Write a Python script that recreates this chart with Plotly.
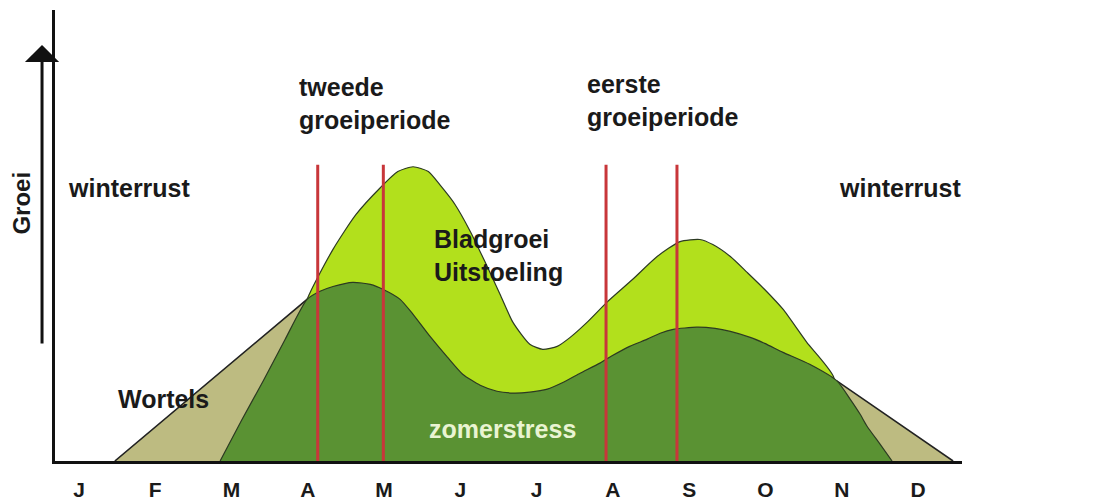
import plotly.graph_objects as go

# ---- data (x in months, J=0 ... D=11; y = relative growth) ----
months = ["J", "F", "M", "A", "M", "J", "J", "A", "S", "O", "N", "D"]
month_pos = list(range(12))

# Wortels (roots) – tan area
wortels_x = [0.47, 2.99, 3.16, 4.21, 6.18, 8.14, 9.45, 9.94, 11.46]
wortels_y = [0, 54, 44, 14, 7.3, 14, 19, 26.7, 0]

# Bladgroei / Uitstoeling – light green area
blad_x = [2.40, 2.70, 2.99, 3.33, 3.63, 3.95, 4.18, 4.38, 4.58, 4.73, 4.93, 5.13, 5.32,
          5.52, 5.69, 5.91, 6.08, 6.27, 6.44, 6.66, 6.92, 7.26, 7.58, 7.88, 8.14,
          8.31, 8.54, 8.76, 8.99, 9.23, 9.54, 9.89, 10.11]
blad_y = [0, 27, 54, 70.7, 82.3, 91.3, 96.7, 98.3, 96.7, 92.3, 85.7, 76.7, 66.7,
          55.7, 46.3, 39, 37.3, 38.3, 41.3, 46.3, 53, 60.7, 68.3, 73.3, 74,
          72.3, 68.3, 63, 57.3, 50.7, 39.7, 28.3, 0]

# zomerstress – dark green area
stress_x = [1.85, 2.13, 2.42, 2.70, 2.99, 3.16, 3.33, 3.59, 3.82, 3.99, 4.21, 4.38, 4.60,
            4.83, 5.03, 5.26, 5.48, 5.69, 5.91, 6.14, 6.35, 6.57, 6.83, 7.00, 7.22,
            7.45, 7.62, 7.79, 8.10, 8.34, 8.54, 8.80, 8.99, 9.23, 9.58, 9.94, 10.11,
            10.24, 10.33, 10.50, 10.66]
stress_y = [0, 13.5, 27, 40.5, 54, 56.7, 58.3, 59.7, 59, 57.3, 54, 49, 41.7,
            34.7, 29, 25.3, 23.3, 22.7, 23, 24, 26.3, 29.3, 32.7, 35.3, 38.3,
            40.7, 42.7, 44, 44.7, 44.3, 43.3, 41.3, 39.3, 36.3, 32.3, 26.7, 20.7,
            15.7, 11.7, 5.7, 0]

# red period markers
period_x = [3.13, 3.99, 6.91, 7.84]
period_top = 99

FONT = "Liberation Sans, Arial, sans-serif"
LINE = "#2c3a22"

fig = go.Figure()
fig.add_trace(go.Scatter(x=wortels_x, y=wortels_y, mode="lines", fill="tozeroy",
                         fillcolor="#bdbb81", line=dict(color="#222", width=1.6),
                         hoverinfo="skip", showlegend=False))
fig.add_trace(go.Scatter(x=blad_x, y=blad_y, mode="lines", fill="tozeroy",
                         fillcolor="#b2e01c", line=dict(color=LINE, width=1.2, shape="spline", smoothing=0.6),
                         hoverinfo="skip", showlegend=False))
fig.add_trace(go.Scatter(x=stress_x, y=stress_y, mode="lines", fill="tozeroy",
                         fillcolor="#5a9233", line=dict(color=LINE, width=1.2, shape="spline", smoothing=0.6),
                         hoverinfo="skip", showlegend=False))

for px in period_x:
    fig.add_shape(type="line", xref="x", yref="y", x0=px, x1=px, y0=0, y1=period_top,
                  line=dict(color="#c8363a", width=3))

def label(text, x, y, color="#1a1a1a", size=25):
    fig.add_annotation(text="<b>" + text + "</b>", x=x, y=y, xref="x", yref="y",
                       xanchor="left", yanchor="middle", showarrow=False, align="left",
                       font=dict(family=FONT, size=size, color=color))

label("winterrust", -0.17, 91.3)
label("winterrust", 9.94, 91.3)
label("tweede<br>groeiperiode", 2.86, 119.3)
label("eerste<br>groeiperiode", 6.64, 120.3)
label("Bladgroei<br>Uitstoeling", 4.63, 68.7)
label("Wortels", 0.49, 20.7)
label("zomerstress", 4.56, 10.7, color="#e9f4d2")

# Groei arrow and label (outside the plot area)
fig.add_annotation(text="", xref="paper", yref="paper", x=-0.0143, y=0.9226,
                   ax=0, ay=300, showarrow=True, arrowhead=1, arrowsize=1.9,
                   arrowwidth=3, arrowcolor="#111")
fig.add_annotation(text="<b>Groei</b>", xref="paper", yref="paper", x=-0.0364, y=0.573,
                   xanchor="center", yanchor="middle",
                   textangle=-90, showarrow=False,
                   font=dict(family=FONT, size=24, color="#1a1a1a"))

fig.update_layout(
    width=1119, height=511, autosize=False,
    margin=dict(l=55, r=157, t=10, b=39),
    paper_bgcolor="white", plot_bgcolor="white",
    xaxis=dict(range=[-0.3147, 11.577], tickvals=month_pos,
               ticktext=["<b>" + m + "</b>" for m in months],
               tickfont=dict(family=FONT, size=21, color="#1a1a1a"),
               ticks="outside", ticklen=8, tickcolor="rgba(0,0,0,0)",
               showline=True, linewidth=3, linecolor="#111",
               showgrid=False, zeroline=False, fixedrange=True),
    yaxis=dict(range=[0, 150.67], showticklabels=False, ticks="",
               showline=True, linewidth=3, linecolor="#111",
               showgrid=False, zeroline=False, fixedrange=True),
)

fig.write_html("out.html", config={"displayModeBar": False},
               post_script="document.body.style.margin='0';document.body.style.padding='0';")
